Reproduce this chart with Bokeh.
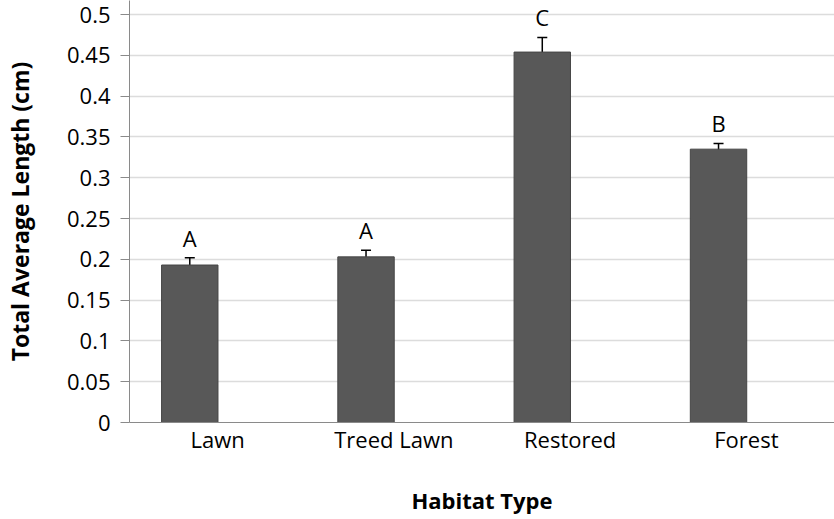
from bokeh.plotting import figure
from bokeh.models import ColumnDataSource, Range1d, FactorRange, FixedTicker, Whisker
from bokeh.transform import dodge
from bokeh.core.properties import value
from bokeh.embed import file_html
from bokeh.resources import INLINE

categories = ["Lawn", "Treed Lawn", "Restored", "Forest"]
means = [0.193, 0.203, 0.454, 0.335]
errors = [0.009, 0.008, 0.018, 0.007]
letters = ["A", "A", "C", "B"]
y_ticks = [0, 0.05, 0.1, 0.15, 0.2, 0.25, 0.3, 0.35, 0.4, 0.45, 0.5]
y_tick_labels = ["0", "0.05", "0.1", "0.15", "0.2", "0.25", "0.3", "0.35", "0.4", "0.45", "0.5"]
x_title = "Habitat Type"
y_title = "Total Average Length (cm)"

src = ColumnDataSource(dict(
    cat=categories,
    top=means,
    upper=[m + e for m, e in zip(means, errors)],
    lower=[m - e for m, e in zip(means, errors)],
    letter=letters,
))

FONT = "Open Sans"
SHIFT = -0.158

p = figure(width=834, height=519, output_backend="svg", toolbar_location=None,
           x_range=FactorRange(factors=categories, range_padding=0),
           y_range=Range1d(0, 0.5172),
           min_border_left=127, min_border_right=0, min_border_top=0, min_border_bottom=97)
p.outline_line_color = None
p.background_fill_color = "white"

xd = dodge("cat", SHIFT, range=p.x_range)

p.vbar(x=xd, top="top", width=0.32, source=src, fill_color="#585858",
       line_color="#454545", line_width=1)

w = Whisker(base=xd, upper="upper", lower="lower", source=src,
            line_color="black", line_width=1.5)
for h in (w.upper_head, w.lower_head):
    h.size = 10
    h.line_color = "black"
    h.line_width = 1.5
p.add_layout(w)

p.text(x=xd, y="upper", text="letter", source=src, text_align="center",
       text_baseline="bottom", y_offset=-5, text_font=value(FONT),
       text_font_size="22px", text_color="black")

# y axis
p.yaxis.ticker = FixedTicker(ticks=y_ticks)
p.yaxis.major_label_overrides = {t: l for t, l in zip(y_ticks, y_tick_labels)}
p.yaxis.major_label_text_font = FONT
p.yaxis.major_label_text_font_size = "22px"
p.yaxis.major_label_text_color = "black"
p.yaxis.major_label_standoff = 10
p.yaxis.major_tick_out = 9
p.yaxis.major_tick_in = 0
p.yaxis.minor_tick_line_color = None
p.yaxis.axis_line_color = "#8a8a8a"
p.yaxis.major_tick_line_color = "#8a8a8a"
p.yaxis.axis_label = y_title
p.yaxis.axis_label_text_font = FONT
p.yaxis.axis_label_text_font_style = "bold"
p.yaxis.axis_label_text_font_size = "23px"
p.yaxis.axis_label_text_color = "black"
p.yaxis.axis_label_standoff = 28

# x axis
p.xaxis.major_label_text_font = FONT
p.xaxis.major_label_text_font_size = "22px"
p.xaxis.major_label_text_color = "black"
p.xaxis.major_label_standoff = 1
p.xaxis.major_tick_line_color = None
p.xaxis.major_tick_out = 0
p.xaxis.major_tick_in = 0
p.xaxis.minor_tick_line_color = None
p.xaxis.axis_line_color = "#8a8a8a"
p.xaxis.axis_label = x_title
p.xaxis.axis_label_text_font = FONT
p.xaxis.axis_label_text_font_style = "bold"
p.xaxis.axis_label_text_font_size = "22px"
p.xaxis.axis_label_text_color = "black"
p.xaxis.axis_label_standoff = 28

p.xgrid.grid_line_color = None
p.ygrid.ticker = FixedTicker(ticks=y_ticks)
p.ygrid.grid_line_color = "#dcdcdc"
p.ygrid.grid_line_width = 1.5

open("out.html", "w").write(file_html(p, INLINE))
